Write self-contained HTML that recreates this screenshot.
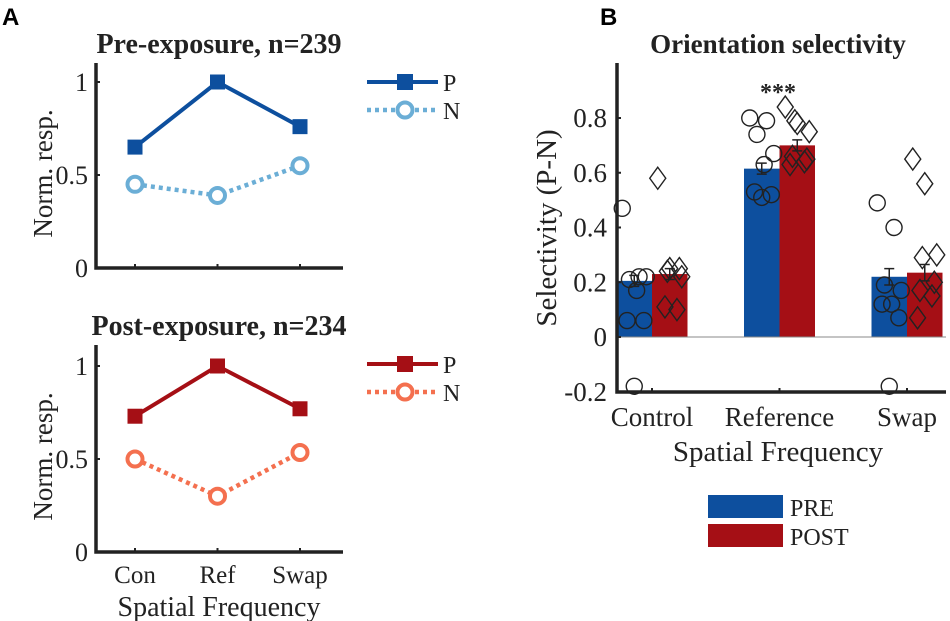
<!DOCTYPE html>
<html><head><meta charset="utf-8"><style>
body{margin:0;background:#fff}
svg{display:block}
text{font-family:"Liberation Serif",serif;fill:#222}
.lbl{font-family:"Liberation Sans",sans-serif;font-weight:bold;fill:#000}
</style></head><body>
<svg id="fig" width="950" height="621" viewBox="0 0 950 621">
<text class="lbl" x="2" y="25" font-size="24">A</text>
<text class="lbl" x="600" y="25" font-size="24">B</text>
<g id="pa"></g><g id="pb"></g>
</svg>
<script>
const NS='http://www.w3.org/2000/svg';
function mk(p,tag,at,txt){const e=document.createElementNS(NS,tag);for(const k in at)e.setAttribute(k,at[k]);if(txt!==undefined)e.textContent=txt;p.appendChild(e);return e;}
// Panel A data
const aCats=['Con','Ref','Swap'];
const preP=[0.65,1.0,0.76];
const preN=[0.45,0.39,0.55];
const postP=[0.73,1.0,0.77];
const postN=[0.50,0.30,0.535];
const aTicks=[0,0.5,1];
// Panel B data
const bCats=['Control','Reference','Swap'];
const bPre=[0.205,0.615,0.22];
const bPost=[0.23,0.70,0.235];
const bPreErr=[0.02,0.02,0.03];
const bPostErr=[0.02,0.02,0.03];
const bPrePts=[[0.47,0.22,0.21,0.22,0.17,0.06,0.06,-0.18],[0.80,0.79,0.74,0.67,0.63,0.53,0.52,0.51],[0.49,0.40,0.19,0.17,0.12,0.12,0.07,-0.18]];
const bPostPts=[[0.58,0.25,0.22,0.24,0.25,0.11,0.10],[0.84,0.78,0.75,0.79,0.65,0.66,0.64,0.63],[0.65,0.56,0.30,0.29,0.20,0.17,0.15,0.07]];
const bTicks=[-0.2,0,0.2,0.4,0.6,0.8];

const pa=document.getElementById('pa');
function linePanel(y0,y1,axTop,title,P,N,cP,cN,showX,pre){
  const g=mk(pa,'g',{});
  
  
  const xs=i=>135+i*82.5, ys=v=>y0+(y1-y0)*v;
  const t=mk(g,'text',{x:219,y:axTop-10,'font-size':28,'font-weight':'bold','text-anchor':'middle',fill:'#000'},title);
  
  const ax=mk(g,'path',{d:`M96 ${axTop} V${y0} H343`,stroke:'#222','stroke-width':3.5,fill:'none'});
  
  aTicks.forEach(v=>{
    const tl=mk(g,'text',{x:88,y:ys(v)+9,'font-size':26,'text-anchor':'end'},String(v));
    
    mk(g,'line',{x1:96,x2:100,y1:ys(v),y2:ys(v),stroke:'#222','stroke-width':2});
  });
  aCats.forEach((c,i)=>{
    mk(g,'line',{x1:xs(i),x2:xs(i),y1:y0,y2:y0-4,stroke:'#222','stroke-width':2});
    if(showX){const tl=mk(g,'text',{x:xs(i),y:y0+31,'font-size':25,'text-anchor':'middle'},c);
      }
  });
  const yl=mk(g,'text',{x:0,y:0,'font-size':27,'text-anchor':'middle',transform:`translate(52 ${(y0+axTop)/2+8}) rotate(-90)`},'Norm. resp.');
  
  const lp=mk(g,'polyline',{points:P.map((v,i)=>xs(i)+','+ys(v)).join(' '),stroke:cP,'stroke-width':4,fill:'none'});
  
  const ln=mk(g,'polyline',{points:N.map((v,i)=>xs(i)+','+ys(v)).join(' '),stroke:cN,'stroke-width':4.5,fill:'none','stroke-dasharray':'4 4'});
  
  P.forEach((v,i)=>{const r=mk(g,'rect',{x:xs(i)-7.5,y:ys(v)-7.5,width:15,height:15,fill:cP});
    });
  N.forEach((v,i)=>{const c=mk(g,'circle',{cx:xs(i),cy:ys(v),r:7.5,fill:'#fff',stroke:cN,'stroke-width':4});
    });
  const ly=axTop+19;
  const lg=mk(g,'g',{});
  mk(lg,'line',{x1:367,x2:438,y1:ly,y2:ly,stroke:cP,'stroke-width':4});
  mk(lg,'rect',{x:397,y:ly-8,width:16,height:16,fill:cP});
  mk(lg,'text',{x:443,y:ly+9,'font-size':24},'P');
  mk(lg,'line',{x1:367,x2:438,y1:ly+28,y2:ly+28,stroke:cN,'stroke-width':4.5,'stroke-dasharray':'4 4'});
  mk(lg,'circle',{cx:405,cy:ly+28,r:7.5,fill:'#fff',stroke:cN,'stroke-width':4});
  mk(lg,'text',{x:443,y:ly+37,'font-size':24},'N');
}
linePanel(268,82,63,'Pre-exposure, n=239',preP,preN,'#0d4f9e','#6baed6',false,'pre');
linePanel(552,366,345,'Post-exposure, n=234',postP,postN,'#a50f15','#f4704f',true,'post');
const sf=mk(pa,'text',{x:219,y:616,'font-size':28,'text-anchor':'middle'},'Spatial Frequency');


// Panel B
const pb=document.getElementById('pb');
const yB=v=>337-v*273.75, xB=i=>652+i*127.5, bw=35.5;
const bt=mk(pb,'text',{x:778,y:53,'font-size':27,'font-weight':'bold','text-anchor':'middle',fill:'#000'},'Orientation selectivity');

bCats.forEach((c,i)=>{
  const x=xB(i);
  const b1=mk(pb,'rect',{x:x-bw,y:Math.min(yB(bPre[i]),yB(0)),width:bw,height:Math.abs(yB(bPre[i])-yB(0)),fill:'#0d4f9e'});
  
  const b2=mk(pb,'rect',{x:x,y:Math.min(yB(bPost[i]),yB(0)),width:bw,height:Math.abs(yB(bPost[i])-yB(0)),fill:'#a50f15'});
  
  [[x-bw/2,bPre[i],bPreErr[i]],[x+bw/2,bPost[i],bPostErr[i]]].forEach(([cx,v,e])=>{
    const eb=mk(pb,'path',{d:`M${cx} ${yB(v-e)}V${yB(v+e)}M${cx-5} ${yB(v+e)}H${cx+5}M${cx-5} ${yB(v-e)}H${cx+5}`,stroke:'#222','stroke-width':1.5,fill:'none'});
    
  });
  bPrePts[i].forEach((v,j)=>{const off=((j*7)%11-5)*2.4;
    const p=mk(pb,'circle',{cx:x-bw/2+off,cy:yB(v),r:8,fill:'none',stroke:'#222','stroke-width':1.4});
    });
  bPostPts[i].forEach((v,j)=>{const off=((j*5)%11-5)*2.4;const cx=x+bw/2+off,cy=yB(v);
    const p=mk(pb,'path',{d:`M${cx} ${cy-11}L${cx+8} ${cy}L${cx} ${cy+11}L${cx-8} ${cy}Z`,fill:'none',stroke:'#222','stroke-width':1.4});
    });
  mk(pb,'line',{x1:x,x2:x,y1:392,y2:388,stroke:'#222','stroke-width':2});
  const tl=mk(pb,'text',{x:x,y:426,'font-size':27,'text-anchor':'middle'},c);
  
});
mk(pb,'line',{x1:617,x2:946,y1:yB(0),y2:yB(0),stroke:'#888','stroke-width':1});
const axB=mk(pb,'path',{d:'M617 63V392H946',stroke:'#222','stroke-width':3.5,fill:'none'});

bTicks.forEach(v=>{
  mk(pb,'line',{x1:617,x2:621,y1:yB(v),y2:yB(v),stroke:'#222','stroke-width':2});
  const tl=mk(pb,'text',{x:607,y:yB(v)+9,'font-size':27,'text-anchor':'end'},String(v));
  
});
const st=mk(pb,'text',{x:778,y:100,'font-size':24,'font-weight':'bold','text-anchor':'middle',fill:'#000'},'***');

const ylb=mk(pb,'text',{x:0,y:0,'font-size':29,'text-anchor':'middle',transform:'translate(556 228) rotate(-90)'},'Selectivity (P-N)');

const xlb=mk(pb,'text',{x:778,y:461,'font-size':29,'text-anchor':'middle'},'Spatial Frequency');

const lgB=mk(pb,'g',{});
mk(lgB,'rect',{x:708,y:495,width:75,height:23,fill:'#0d4f9e'});
mk(lgB,'text',{x:790,y:516,'font-size':24},'PRE');
mk(lgB,'rect',{x:708,y:524,width:75,height:23,fill:'#a50f15'});
mk(lgB,'text',{x:790,y:545,'font-size':24},'POST');
</script>
</body></html>
